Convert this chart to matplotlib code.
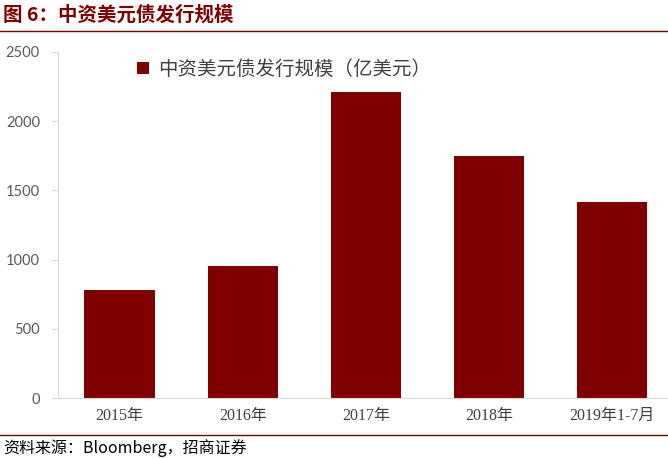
import matplotlib.pyplot as plt

categories = ['2015年', '2016年', '2017年', '2018年', '2019年1-7月']
values = [780, 955, 2210, 1745, 1415]
yticks = [0, 500, 1000, 1500, 2000, 2500]

red = '#800000'
cjk = ['Noto Sans CJK SC', 'DejaVu Sans']
plt.rcParams['font.family'] = cjk

fig = plt.figure(figsize=(6.68, 4.58), dpi=100)
ax = fig.add_axes([0.0868, 0.131, 0.922, 0.7555])

x = range(len(categories))
ax.bar(x, values, width=0.57, color=red, label='中资美元债发行规模（亿美元）')
ax.set_xlim(-0.5, len(categories) - 0.5)
ax.set_ylim(0, 2500)
ax.set_yticks(yticks)
ax.set_xticks(list(x))
ax.set_xticklabels(categories, family=['Liberation Serif', 'Noto Sans CJK SC'], fontsize=11.5, color='#404040')
for lab in ax.get_yticklabels():
    lab.set_family(['Lato', 'DejaVu Sans'])
    lab.set_fontsize(10.5)
    lab.set_color('#595959')

for s in ['top', 'right']:
    ax.spines[s].set_visible(False)
ax.spines['left'].set_color('#d9d9d9')
ax.spines['bottom'].set_color('#d9d9d9')
ax.tick_params(axis='y', length=5, color='#d9d9d9', pad=8)
ax.tick_params(axis='x', length=0, pad=7)

ax.legend(loc='upper left', bbox_to_anchor=(0.1, 1.03), frameon=False,
          prop={'family': cjk, 'size': 14}, labelcolor='#404040',
          handlelength=0.6, handleheight=0.6, handletextpad=0.5)

# header and footer
fig.text(0.005, 0.968, '图 6：中资美元债发行规模', color=red, fontsize=14,
         fontweight='bold', va='center', ha='left')
fig.add_artist(plt.Line2D([0, 1], [0.933, 0.933], color=red, lw=1))
fig.add_artist(plt.Line2D([0, 1], [0.05, 0.05], color=red, lw=1))
fig.text(0.005, 0.022, '资料来源：Bloomberg，招商证券', color='black', fontsize=11.5,
         va='center', ha='left')

fig.savefig('out.png', dpi=100)
